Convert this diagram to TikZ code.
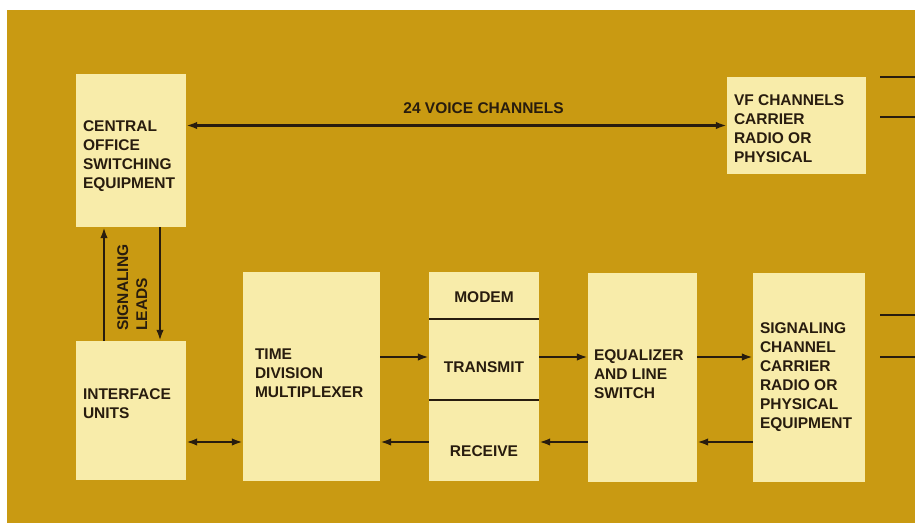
\documentclass[tikz,border=0pt]{standalone}
\usepackage{fontspec}
\setmainfont{Liberation Sans}
\usepackage{xcolor}
\usetikzlibrary{arrows.meta}
\definecolor{goldbg}{RGB}{201,154,18}
\definecolor{boxfill}{RGB}{248,236,170}
\definecolor{ink}{RGB}{40,28,14}

\begin{document}
\begin{tikzpicture}[x=1pt,y=-1pt,
  comp/.style={fill=boxfill,inner sep=0pt},
  lbl/.style={font=\fontsize{15.5}{19}\selectfont\bfseries,text=ink,inner sep=0pt,align=left},
  arr/.style={-{Latex[length=11pt,width=7.5pt]},line width=2.2pt,draw=ink},
  darr/.style={{Latex[length=11pt,width=7.5pt]}-{Latex[length=11pt,width=7.5pt]},line width=2.2pt,draw=ink},
  wire/.style={line width=2.2pt,draw=ink}]
  \useasboundingbox (0,0) rectangle (915,527);
  \fill[goldbg] (7,10) rectangle (915,523);

  \node[comp,minimum width=110pt,minimum height=153pt] (CO)  at (131,150.5) {};
  \node[comp,minimum width=139pt,minimum height=97pt]  (VF)  at (796.5,125.5) {};
  \node[comp,minimum width=110pt,minimum height=139pt] (IU)  at (131,410.5) {};
  \node[comp,minimum width=137pt,minimum height=209pt] (TDM) at (311.5,376.5) {};
  \node[comp,minimum width=110pt,minimum height=209pt] (MOD) at (484,376.5) {};
  \node[comp,minimum width=109pt,minimum height=209pt] (EQ)  at (642.5,377.5) {};
  \node[comp,minimum width=112pt,minimum height=209pt] (SC)  at (809,377.5) {};

  \node[lbl,anchor=west] (COt)  at ([shift={(7,6)}]CO.west)   {CENTRAL\\OFFICE\\SWITCHING\\EQUIPMENT};
  \node[lbl,anchor=west] (VFt)  at ([shift={(7,3)}]VF.west)   {VF CHANNELS\\CARRIER\\RADIO OR\\PHYSICAL};
  \node[lbl,anchor=west] (IUt)  at ([shift={(7,-7)}]IU.west)  {INTERFACE\\UNITS};
  \node[lbl,anchor=west] (TDMt) at ([shift={(12,-3)}]TDM.west) {TIME\\DIVISION\\MULTIPLEXER};
  \node[lbl,anchor=west] (EQt)  at ([shift={(6,-3)}]EQ.west)  {EQUALIZER\\AND LINE\\SWITCH};
  \node[lbl,anchor=west] (SCt)  at ([shift={(7,0)}]SC.west)   {SIGNALING\\CHANNEL\\CARRIER\\RADIO OR\\PHYSICAL\\EQUIPMENT};

  \node[lbl] (modem) at (484,297) {MODEM};
  \node[lbl] (tx)    at (484,367) {TRANSMIT};
  \node[lbl] (rx)    at (484,451) {RECEIVE};
  \coordinate (div1) at (0,319);
  \coordinate (div2) at (0,400);
  \draw[wire,line width=1.8pt] (MOD.west |- div1) -- (MOD.east |- div1);
  \draw[wire,line width=1.8pt] (MOD.west |- div2) -- (MOD.east |- div2);

  \draw[darr] (CO.east |- VF) -- node[lbl,pos=0.55,above=11pt]{24 VOICE CHANNELS} (VF.west);

  \coordinate (up) at (104,0);
  \coordinate (dn) at (160,0);
  \draw[arr] (IU.north -| up) -- (CO.south -| up);
  \draw[arr] (CO.south -| dn) -- (IU.north -| dn);
  \node[lbl,rotate=90,anchor=north west] (leads) at (117,331) {SIGNALING\\LEADS};

  \coordinate (txrow) at (0,357);
  \coordinate (rxrow) at (0,442);
  \draw[arr]  (TDM.east |- txrow) -- (MOD.west |- txrow);
  \draw[arr]  (MOD.east |- txrow) -- (EQ.west |- txrow);
  \draw[arr]  (EQ.east |- txrow) -- (SC.west |- txrow);
  \draw[arr]  (SC.west |- rxrow) -- (EQ.east |- rxrow);
  \draw[arr]  (EQ.west |- rxrow) -- (MOD.east |- rxrow);
  \draw[arr]  (MOD.west |- rxrow) -- (TDM.east |- rxrow);
  \draw[darr] (IU.east |- rxrow) -- (TDM.west |- rxrow);

  \coordinate (edge) at (915,0);
  \coordinate (start) at (880,0);
  \draw[wire] (start |- 0,77) -- (edge |- 0,77);
  \draw[wire] (start |- 0,117) -- (edge |- 0,117);
  \draw[wire] (start |- 0,315) -- (edge |- 0,315);
  \draw[wire] (start |- 0,357) -- (edge |- 0,357);
\end{tikzpicture}
\end{document}
